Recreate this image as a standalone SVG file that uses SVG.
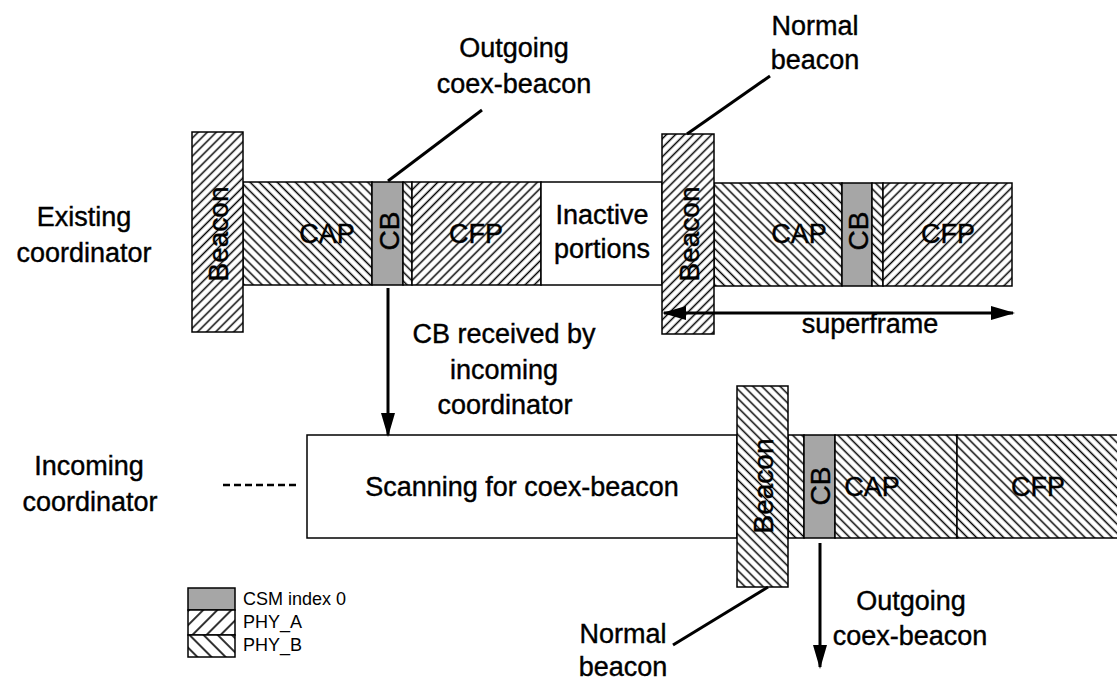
<svg xmlns="http://www.w3.org/2000/svg" width="1117" height="682" viewBox="0 0 1117 682">
<defs>
<pattern id="phyA" patternUnits="userSpaceOnUse" width="6.4" height="6.4" patternTransform="rotate(45)"><rect width="6.4" height="6.4" fill="#fff"/><line x1="3.2" y1="-1" x2="3.2" y2="7.4" stroke="#000" stroke-width="1.5"/></pattern>
<pattern id="phyB" patternUnits="userSpaceOnUse" width="6.4" height="6.4" patternTransform="rotate(-45)"><rect width="6.4" height="6.4" fill="#fff"/><line x1="3.2" y1="-1" x2="3.2" y2="7.4" stroke="#000" stroke-width="1.5"/></pattern>
<pattern id="phyAL" patternUnits="userSpaceOnUse" width="10" height="10" patternTransform="rotate(45)"><rect width="10" height="10" fill="#fff"/><line x1="5" y1="-1" x2="5" y2="11" stroke="#000" stroke-width="1.6"/></pattern>
<pattern id="phyBL" patternUnits="userSpaceOnUse" width="10" height="10" patternTransform="rotate(-45)"><rect width="10" height="10" fill="#fff"/><line x1="5" y1="-1" x2="5" y2="11" stroke="#000" stroke-width="1.6"/></pattern>
<marker id="ah" viewBox="0 0 24 14" refX="22" refY="7" markerWidth="24" markerHeight="14" markerUnits="userSpaceOnUse" orient="auto-start-reverse"><path d="M0,0 L24,7 L0,14 Z" fill="#000"/></marker>
<style>
.t{font-family:"Liberation Sans",Arial,sans-serif;font-size:27px;fill:#000;stroke:#000;stroke-width:0.4;text-anchor:middle}
.r{font-family:"Liberation Sans",Arial,sans-serif;font-size:28px;fill:#000;stroke:#000;stroke-width:0.4;text-anchor:middle;dominant-baseline:central}
.s{font-family:"Liberation Sans",Arial,sans-serif;font-size:18px;fill:#000}
.box{stroke:#000;stroke-width:1.5}
.A{fill:url(#phyA)}
.B{fill:url(#phyB)}
.G{fill:#a6a6a6}
.W{fill:#fff}
.ln{stroke:#000;stroke-width:3;fill:none}
</style>
</defs>

<g id="labels">
<text class="t" x="84" y="226">Existing</text>
<text class="t" x="84" y="262">coordinator</text>
<text class="t" x="89" y="475">Incoming</text>
<text class="t" x="90" y="511">coordinator</text>
</g>

<g id="existing-row">
<rect class="box B" x="243" y="182" width="129" height="103"/>
<rect class="box G" x="372" y="182" width="31" height="103"/>
<rect class="box B" x="403" y="182" width="9" height="103"/>
<rect class="box A" x="412" y="182" width="129" height="103"/>
<rect class="box W" x="541" y="182" width="121" height="103"/>
<rect class="box B" x="714" y="183" width="128" height="103"/>
<rect class="box G" x="842" y="183" width="30" height="103"/>
<rect class="box B" x="872" y="183" width="11" height="103"/>
<rect class="box A" x="883" y="183" width="129" height="103"/>
<rect class="box A" x="192" y="132" width="51" height="200"/>
<rect class="box A" x="662" y="134" width="52" height="200"/>
<text class="r" transform="translate(218,234) rotate(-90)">Beacon</text>
<text class="r" transform="translate(389,231) rotate(-90)">CB</text>
<text class="t" x="327" y="243">CAP</text>
<text class="t" x="476" y="243">CFP</text>
<text class="t" x="602" y="224">Inactive</text>
<text class="t" x="602" y="258">portions</text>
<text class="r" transform="translate(689,234) rotate(-90)">Beacon</text>
<text class="r" transform="translate(858,231) rotate(-90)">CB</text>
<text class="t" x="799" y="243">CAP</text>
<text class="t" x="948" y="243">CFP</text>
</g>

<g id="incoming-row">
<rect class="box W" x="307" y="435" width="430" height="103"/>
<rect class="box B" x="788" y="435" width="16" height="103"/>
<rect class="box G" x="804" y="435" width="31" height="103"/>
<rect class="box B" x="835" y="435" width="122" height="103"/>
<rect class="box B" x="957" y="435" width="170" height="103"/>
<rect class="box B" x="737" y="386" width="51" height="201"/>
<text class="t" x="522" y="496">Scanning for coex-beacon</text>
<text class="r" transform="translate(763,486) rotate(-90)">Beacon</text>
<text class="r" transform="translate(820,486) rotate(-90)">CB</text>
<text class="t" x="872" y="496">CAP</text>
<text class="t" x="1038" y="496">CFP</text>
</g>

<g id="annotations">
<text class="t" x="514" y="57">Outgoing</text>
<text class="t" x="514" y="93">coex-beacon</text>
<text class="t" x="815" y="35">Normal</text>
<text class="t" x="815" y="69">beacon</text>
<text class="t" x="504" y="343">CB received by</text>
<text class="t" x="504" y="379">incoming</text>
<text class="t" x="505" y="414">coordinator</text>
<text class="t" x="870" y="333">superframe</text>
<text class="t" x="911" y="610">Outgoing</text>
<text class="t" x="910" y="645">coex-beacon</text>
<text class="t" x="623" y="643">Normal</text>
<text class="t" x="623" y="676">beacon</text>
</g>

<g id="connectors">
<line class="ln" x1="388" y1="181" x2="482" y2="110"/>
<line class="ln" x1="687" y1="134" x2="770" y2="76"/>
<line class="ln" x1="388" y1="288" x2="388" y2="435" marker-end="url(#ah)"/>
<line class="ln" x1="664" y1="313" x2="1013" y2="313" marker-start="url(#ah)" marker-end="url(#ah)"/>
<line class="ln" x1="820" y1="543" x2="820" y2="667" marker-end="url(#ah)"/>
<line class="ln" x1="768" y1="587" x2="673" y2="645"/>
<line x1="223" y1="485" x2="297" y2="485" stroke="#000" stroke-width="2.5" stroke-dasharray="7 4"/>
</g>

<g id="legend">
<rect class="box G" x="188" y="588" width="47" height="22"/>
<rect class="box" fill="url(#phyAL)" x="188" y="610" width="47" height="25"/>
<rect class="box" fill="url(#phyBL)" x="188" y="635" width="47" height="22"/>
<text class="s" x="243" y="605">CSM index 0</text>
<text class="s" x="243" y="628">PHY_A</text>
<text class="s" x="243" y="651">PHY_B</text>
</g>
</svg>
